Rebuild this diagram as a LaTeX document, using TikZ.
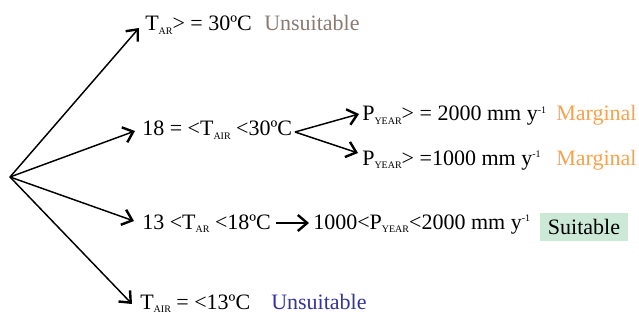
\documentclass[tikz,border=0pt]{standalone}
\usepackage{fontspec}
\setmainfont{Liberation Serif}
\usetikzlibrary{arrows.meta}
\definecolor{brownunsuit}{HTML}{8A7A72}
\definecolor{margorange}{HTML}{F8A24E}
\definecolor{blueunsuit}{HTML}{34349A}
\definecolor{suitgreen}{HTML}{CCE8D6}
\newcommand\sbs[1]{\raisebox{-2.4pt}{\fontsize{7.5}{8}\selectfont #1}}
\newcommand\sps[1]{\raisebox{5.5pt}{\fontsize{7.5}{8}\selectfont #1}}
\tikzset{
  lbl/.style={anchor=base west, inner sep=0pt, font=\fontsize{16.5}{18}\selectfont},
  arr/.style={line width=1.1pt, -{Straight Barb[length=7pt,width=12pt,line width=1.8pt]}},
}
\begin{document}
\begin{tikzpicture}[x=0.75pt,y=-0.75pt]
\useasboundingbox (0,0) rectangle (639,321);
\coordinate (o) at (10,177);
% row 1
\node[lbl] (t1) at (145,31) {T\sbs{AR}> = 30ºC};
\node[lbl, text=brownunsuit] (u1) at (264,31) {Unsuitable};
% row 2
\node[lbl] (t2) at (142,136) {18 = <T\sbs{AIR} <30ºC};
\node[lbl] (p1) at (362,121) {P\sbs{YEAR}> = 2000 mm y\sps{-1}};
\node[lbl, text=margorange] (m1) at (556,121) {Marginal};
\node[lbl] (p2) at (362,165) {P\sbs{YEAR}> =1000 mm y\sps{-1}};
\node[lbl, text=margorange] (m2) at (556,165) {Marginal};
% row 3
\node[lbl] (t3) at (142,229) {13 <T\sbs{AR} <18ºC};
\node[lbl] (p3) at (313,229) {1000<P\sbs{YEAR}<2000 mm y\sps{-1}};
\node[fill=suitgreen, minimum width=88*0.75pt, minimum height=28*0.75pt, inner sep=0pt, font=\fontsize{16.5}{18}\selectfont] (s3) at (584,227) {Suitable};
% row 4
\node[lbl] (t4) at (140,309) {T\sbs{AIR} = <13ºC};
\node[lbl, text=blueunsuit] (u4) at (271,309) {Unsuitable};
% tips
\coordinate (a1) at (139,28);
\coordinate (a2) at (135,131);
\coordinate (a3) at (134,221);
\coordinate (a4) at (132,304);
\coordinate (sp) at (295,132);
\coordinate (b1) at (359,114);
\coordinate (b2) at (358,153);
\coordinate (c0) at (276,223);
\coordinate (c1) at (309,223);
\draw[arr] (o) -- (a1);
\draw[arr] (o) -- (a2);
\draw[arr] (o) -- (a3);
\draw[arr] (o) -- (a4);
\draw[arr] (sp) -- (b1);
\draw[arr] (sp) -- (b2);
\draw[arr] (c0) -- (c1);
\end{tikzpicture}
\end{document}
